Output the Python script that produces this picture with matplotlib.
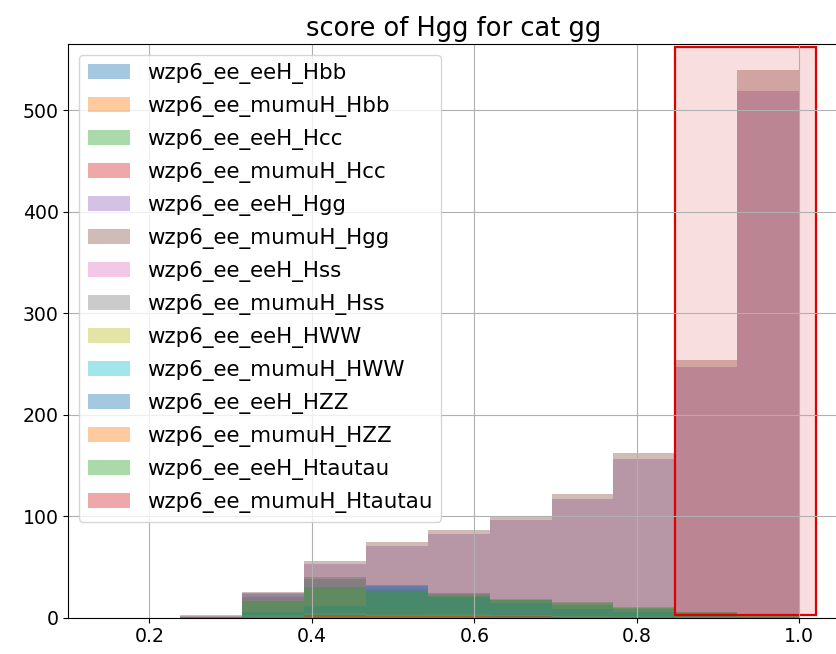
import numpy as np
import matplotlib
matplotlib.use("Agg")
import matplotlib.pyplot as plt
from matplotlib.patches import Rectangle

# Score histogram bin edges (10 bins between min score and 1.0)
bin_edges = [0.2374, 0.3137, 0.3900, 0.4662, 0.5425, 0.6187,
             0.6950, 0.7712, 0.8475, 0.9237, 1.0]

samples = [
    "wzp6_ee_eeH_Hbb", "wzp6_ee_mumuH_Hbb",
    "wzp6_ee_eeH_Hcc", "wzp6_ee_mumuH_Hcc",
    "wzp6_ee_eeH_Hgg", "wzp6_ee_mumuH_Hgg",
    "wzp6_ee_eeH_Hss", "wzp6_ee_mumuH_Hss",
    "wzp6_ee_eeH_HWW", "wzp6_ee_mumuH_HWW",
    "wzp6_ee_eeH_HZZ", "wzp6_ee_mumuH_HZZ",
    "wzp6_ee_eeH_Htautau", "wzp6_ee_mumuH_Htautau",
]

# Event counts per bin for each sample
counts_eeH_Hbb = [1, 24, 38, 31, 24, 17, 13, 9, 5, 1]
counts_mumuH_Hbb = [0, 2, 4, 4, 3, 2, 2, 1, 1, 0]
counts_eeH_Hcc = [1, 20, 40, 28, 23, 18, 15, 11, 6, 2]
counts_mumuH_Hcc = [0, 1, 3, 2, 2, 2, 1, 1, 0, 0]
counts_eeH_Hgg = [2, 23, 52.5, 71, 82, 96, 117, 156, 247, 519]
counts_mumuH_Hgg = [2.5, 25, 56, 75, 86, 99, 122, 162, 254, 539]
counts_eeH_Hss = [0, 2, 4, 3, 3, 2, 2, 1, 1, 0]
counts_mumuH_Hss = [0, 1, 1, 1, 1, 1, 0, 0, 0, 0]
counts_eeH_HWW = [0, 3, 5, 4, 4, 3, 2, 2, 1, 0]
counts_mumuH_HWW = [0, 1, 1, 1, 1, 1, 1, 0, 0, 0]
counts_eeH_HZZ = [0, 6, 12, 32, 20, 14, 9, 6, 3, 1]
counts_mumuH_HZZ = [0, 1, 2, 2, 2, 1, 1, 1, 0, 0]
counts_eeH_Htautau = [1, 16, 30, 26, 21, 17, 14, 10, 6, 2]
counts_mumuH_Htautau = [0, 1, 3, 2, 2, 2, 1, 1, 0, 0]

all_counts = [
    counts_eeH_Hbb, counts_mumuH_Hbb,
    counts_eeH_Hcc, counts_mumuH_Hcc,
    counts_eeH_Hgg, counts_mumuH_Hgg,
    counts_eeH_Hss, counts_mumuH_Hss,
    counts_eeH_HWW, counts_mumuH_HWW,
    counts_eeH_HZZ, counts_mumuH_HZZ,
    counts_eeH_Htautau, counts_mumuH_Htautau,
]

# Selected signal region
cut_low, cut_high = 0.8475, 1.02
region_bottom, region_top = 2.7, 562

fig = plt.figure(figsize=(8.37, 6.54), dpi=100)
ax = fig.add_axes([0.0816, 0.0555, 0.9215, 0.8772])

edges = np.array(bin_edges)
centers = 0.5 * (edges[:-1] + edges[1:])
for name, cnt in zip(samples, all_counts):
    ax.hist(centers, bins=edges, weights=cnt, alpha=0.4, label=name)

ax.add_patch(Rectangle((cut_low, region_bottom), cut_high - cut_low,
                       region_top - region_bottom,
                       facecolor="tab:red", alpha=0.15, edgecolor="none"))
ax.add_patch(Rectangle((cut_low, region_bottom), cut_high - cut_low,
                       region_top - region_bottom,
                       facecolor="none", edgecolor="#e00000", linewidth=1.6))

ax.set_xlim(0.1003, 1.0495)
ax.set_ylim(0, 565)
ax.set_xticks([0.2, 0.4, 0.6, 0.8, 1.0])
ax.set_yticks([0, 100, 200, 300, 400, 500])
ax.tick_params(labelsize=13.6)
ax.grid(True)
ax.set_title("score of Hgg for cat gg", fontsize=18.5)
ax.legend(loc="upper left", fontsize=15.4, labelspacing=0.56)

fig.savefig("out.png", dpi=100)
